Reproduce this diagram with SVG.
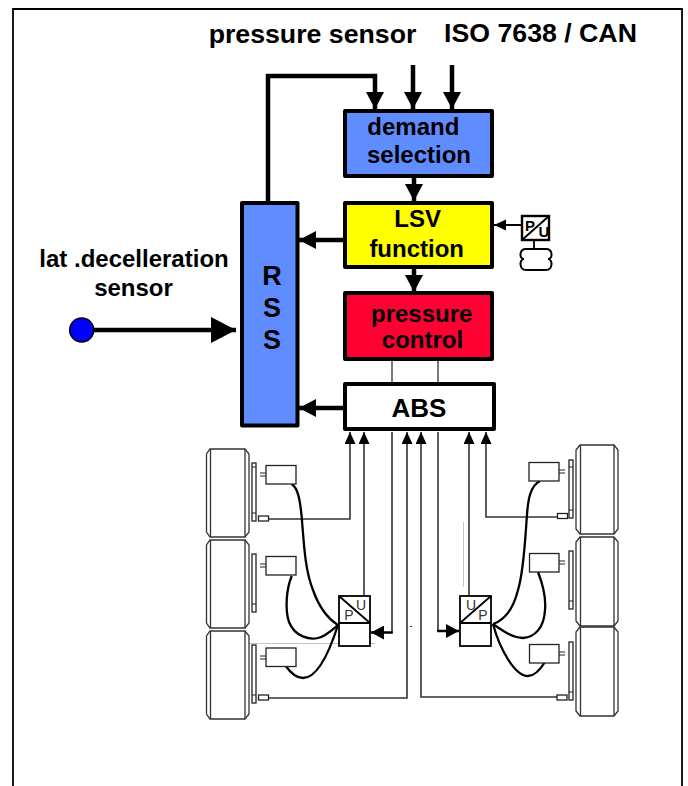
<svg xmlns="http://www.w3.org/2000/svg" width="688" height="786" viewBox="0 0 688 786">
<style>
text{font-family:"Liberation Sans",Arial,sans-serif;font-weight:bold;fill:#000;text-anchor:middle}
.t{font-size:24px}.h{font-size:26.7px}.l{font-size:24px}.r{font-size:27px}
.box{stroke:#000;stroke-width:4;stroke-linejoin:round}
.thick{fill:none;stroke:#000;stroke-width:4.500}
.thin{fill:none;stroke:#333;stroke-width:1.600}
.wire{fill:none;stroke:#000;stroke-width:2.300}
.s{fill:#fff;stroke:#222;stroke-width:1.300}
.pu{font-size:14px;font-weight:normal;fill:#333}
.pb{font-size:15px;font-weight:bold;fill:#000}
.tire{fill:#fff;stroke:#333;stroke-width:1.300}
.stub{stroke:#222;stroke-width:1.200;fill:none}
</style>
<defs>
<marker id="big" markerUnits="userSpaceOnUse" markerWidth="18" markerHeight="18" refX="17" refY="9" orient="auto"><path d="M0 0L17 9L0 18Z"/></marker>
<marker id="huge" markerUnits="userSpaceOnUse" markerWidth="26" markerHeight="26" refX="25" refY="13" orient="auto"><path d="M0 0L25 13L0 26Z"/></marker>
<marker id="small" markerUnits="userSpaceOnUse" markerWidth="13" markerHeight="12" refX="12" refY="5.500" orient="auto"><path d="M0 0L12 5.500L0 11Z"/></marker>
<marker id="mid" markerUnits="userSpaceOnUse" markerWidth="14" markerHeight="14" refX="13" refY="7" orient="auto"><path d="M0 0L13 7L0 14Z"/></marker>
<g id="tireL"><path class="tire" d="M210 0H245L249 5V83L245 88H210L206.500 83V5Z"/><path class="tire" d="M210.500 0V88M245 0V88"/></g>
<g id="tireR"><path class="tire" d="M580 0H614L618 5V84L614 89H580L576 84V5Z"/><path class="tire" d="M580.500 0V89M614 0V89"/></g>
</defs>
<rect width="688" height="786" fill="#fff"/>
<path d="M13 786V9H682V786" fill="none" stroke="#000" stroke-width="1.800"/>
<g id="labels">
<text class="h" x="312.500" y="43">pressure sensor</text>
<text class="h" x="540.500" y="42">ISO 7638 / CAN</text>
<text class="l" x="134" y="267">lat .decelleration</text>
<text class="l" x="133.500" y="296">sensor</text>
</g>
<g id="connectors">
<path class="thick" d="M268 202V76H375V109" marker-end="url(#big)"/>
<path class="thick" d="M413 65V109" marker-end="url(#big)"/>
<path class="thick" d="M452 65V109" marker-end="url(#big)"/>
<path class="thick" d="M414 177V201" marker-end="url(#big)"/>
<path class="thick" d="M414 268V292" marker-end="url(#big)"/>
<path class="thick" d="M343 240H299" marker-end="url(#big)"/>
<path class="thick" d="M343 408H299" marker-end="url(#big)"/>
<path class="thick" d="M94 330H236" marker-end="url(#huge)"/>
<path d="M521 225H494" fill="none" stroke="#000" stroke-width="2" marker-end="url(#small)"/>
<path d="M534 240V249" fill="none" stroke="#000" stroke-width="1.800"/>
<path d="M392 359V384M438 359V384" fill="none" stroke="#333" stroke-width="1.300"/>
<path class="thin" d="M269 519H350V432" marker-end="url(#small)"/>
<path class="thin" d="M364 596V432" marker-end="url(#small)"/>
<path class="thin" d="M392 432V632.500"/>
<path fill="none" stroke="#000" stroke-width="2.500" d="M392.800 632.500H371" marker-end="url(#mid)"/>
<path class="thin" d="M269 698H407V432" marker-end="url(#small)"/>
<path class="thin" d="M566 697H421V432" marker-end="url(#small)"/>
<path class="thin" d="M438 432V631"/>
<path fill="none" stroke="#000" stroke-width="2.500" d="M437.200 631H459" marker-end="url(#mid)"/>
<path class="thin" d="M469 596V432" marker-end="url(#small)"/>
<path class="thin" d="M557 517H486V432" marker-end="url(#small)"/>
<path d="M249 643.500H375M463.500 522V587" fill="none" stroke="#c4c4c4" stroke-width="1"/>
<path d="M410 626.500H412" stroke="#333" stroke-width="1"/>
<path class="wire" d="M291.700 484C298 488 300 500 301.700 517C304 545 305 570 313 590C320 610 330 620 338 625"/>
<path class="wire" d="M291.700 576C286 590 285 610 289 622C295 637 310 640 318 638C326 636 332 630 338 625"/>
<path class="wire" d="M285 665C292 675 298 678 303 678C318 678 330 650 338 625"/>
<path class="wire" d="M540 481C530 486 528 500 527 515C525 540 524 570 518 590C513 610 505 620 493 624"/>
<path class="wire" d="M538 572C543 585 546 600 545 610C544 628 535 637 523 638C512 638 502 630 493 624"/>
<path class="wire" d="M545 662C540 670 534 676 528 676C515 676 500 650 493 624"/>
</g>
<g id="rss"><rect class="box" x="242" y="203" width="55.500" height="222.500" fill="#5F8CFF"/>
<text class="r" x="272" y="285">R</text><text class="r" x="272" y="317">S</text><text class="r" x="272" y="349">S</text></g>
<g id="demand"><rect class="box" x="345" y="111" width="147" height="65" fill="#5F8CFF"/>
<text class="t" x="413.300" y="135">demand</text><text class="t" x="419" y="163.300">selection</text></g>
<g id="lsv"><rect class="box" x="345" y="203" width="147" height="64" fill="#FFFF00"/>
<text class="t" x="417.700" y="226.700">LSV</text><text class="t" x="416.700" y="257">function</text></g>
<g id="pressure-control"><rect class="box" x="345" y="293" width="147" height="66" fill="#FF0033"/>
<text class="t" x="421.700" y="321.700">pressure</text><text class="t" x="422.500" y="348.300">control</text></g>
<g id="abs"><rect class="box" x="345" y="384" width="149" height="45" fill="#fff"/>
<text x="419" y="416.700" font-size="26">ABS</text></g>
<g id="lat-sensor"><circle cx="81.700" cy="330" r="12" fill="#0000FF" stroke="#000" stroke-width="1.500"/></g>
<g id="pu-sensor"><rect x="522" y="216" width="27" height="24" fill="#fff" stroke="#000" stroke-width="2.400"/><path d="M522 240L549 216" stroke="#000" stroke-width="2"/>
<text class="pb" x="530" y="231">P</text><text class="pb" x="544" y="237">U</text>
<path d="M526 249H546C553 249 553 259 548 259C553 259 553 270 546 270H526C519 270 519 259 524 259C519 259 519 249 526 249" fill="#fff" stroke="#000" stroke-width="2"/></g>
<g id="left-wheels">
<use href="#tireL" y="449"/><use href="#tireL" y="540"/><use href="#tireL" y="631"/>
<rect class="s" x="252" y="463" width="4" height="58"/><rect class="s" x="252" y="554" width="4" height="58"/><rect class="s" x="252" y="645" width="4" height="58"/>
<path class="stub" d="M252 467H256M252 513H256M252 604H256M252 695H256"/>
<rect class="s" x="266" y="465.500" width="30" height="18.500"/><rect class="s" x="266" y="556.500" width="30" height="18.500"/><rect class="s" x="266" y="648" width="30" height="18.500"/>
<path class="stub" d="M260 473H266M260 476H266M260 564H266M260 567H266M260 656H266M260 659H266"/>
<rect class="s" x="258.500" y="516" width="10" height="5"/><rect class="s" x="258.500" y="695" width="10" height="5"/>
</g>
<g id="right-wheels">
<use href="#tireR" y="445"/><use href="#tireR" y="537"/><use href="#tireR" y="627"/>
<rect class="s" x="569" y="460" width="4" height="58"/><rect class="s" x="569" y="551" width="4" height="58"/><rect class="s" x="569" y="642" width="4" height="58"/>
<path class="stub" d="M569 467H573M569 510H573M569 601H573M569 692H573"/>
<rect class="s" x="529" y="462.500" width="30" height="18.500"/><rect class="s" x="529.500" y="553.500" width="29.500" height="18.500"/><rect class="s" x="529.500" y="644.500" width="29.500" height="18.500"/>
<path class="stub" d="M559 470H565M559 473H565M559 561H565M559 564H565M559 652H565M559 655H565"/>
<rect class="s" x="557.500" y="513.500" width="10" height="5"/><rect class="s" x="557" y="695" width="10" height="5"/>
</g>
<g id="pu-left"><rect x="339" y="596" width="31" height="50" fill="#fff" stroke="#000" stroke-width="1.800"/><path d="M339 623H370M339 596L370 623" stroke="#000" stroke-width="1.800" fill="none"/>
<text class="pu" x="349" y="620">P</text><text class="pu" x="361" y="610">U</text></g>
<g id="pu-right"><rect x="460" y="596" width="31" height="50" fill="#fff" stroke="#000" stroke-width="1.800"/><path d="M460 623H491M460 623L491 596" stroke="#000" stroke-width="1.800" fill="none"/>
<text class="pu" x="471" y="610">U</text><text class="pu" x="483" y="620">P</text></g>
</svg>
